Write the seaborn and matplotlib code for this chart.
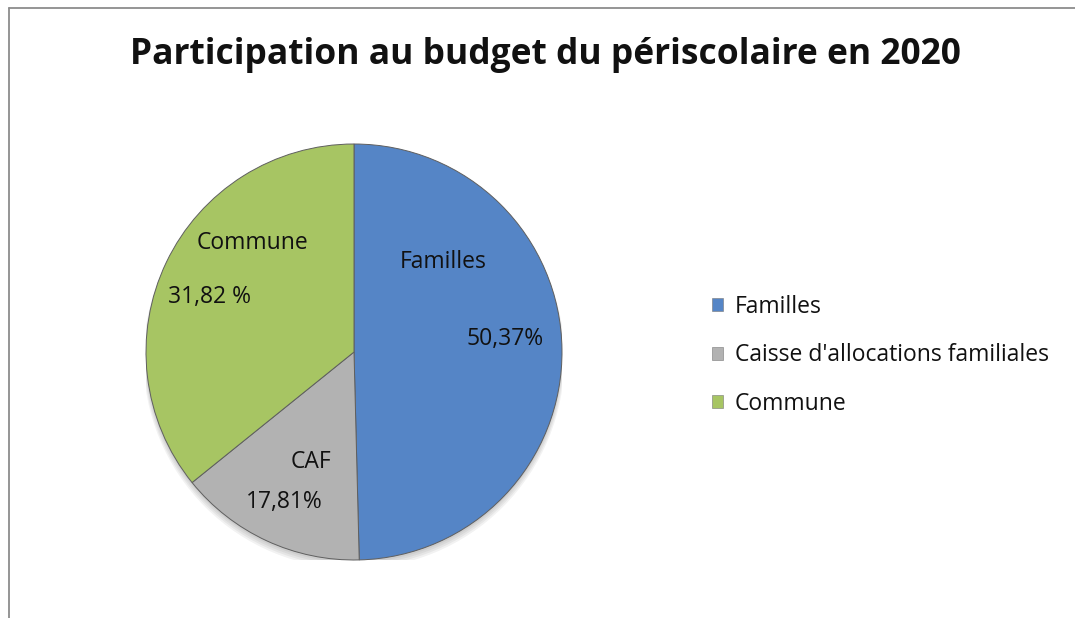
import matplotlib
matplotlib.use("Agg")
import matplotlib.pyplot as plt
from matplotlib.lines import Line2D
from matplotlib.patches import Patch
import seaborn as sns

categories = ["Familles", "Caisse d'allocations familiales", "Commune"]
short_labels = ["Familles", "CAF", "Commune"]
# slice shares as drawn in the picture
values = [49.6, 14.6, 35.8]
# data labels as printed in the picture
value_labels = ["50,37%", "17,81%", "31,82 %"]
title = "Participation au budget du périscolaire en 2020"

sns.set_theme(style="white")
plt.rcParams['font.family'] = ['Open Sans', 'DejaVu Sans']

colors = ["#5585C6", "#B2B2B2", "#A7C563"]

W, H = 1075, 618
fig = plt.figure(figsize=(W / 100, H / 100), dpi=100)
fig.patch.set_facecolor("white")

cx, cy, r = 354, 352, 208
ax = fig.add_axes([(cx - r) / W, (H - cy - r) / H, 2 * r / W, 2 * r / H])

# soft shadow
for k in range(4):
    ax.add_patch(plt.Circle((0.0, -0.012 - 0.006 * k), 1.0 + 0.004 * k, color="#000000",
                            alpha=0.05, zorder=0, lw=0))

wedges, _ = ax.pie(values, colors=colors, startangle=90, counterclock=False,
                   radius=1.0, wedgeprops=dict(edgecolor="#5f5f5f", linewidth=0.7))
for w in wedges:
    w.set_zorder(2)
ax.set_xlim(-1, 1)
ax.set_ylim(-1, 1)
ax.set_aspect("equal")
ax.axis("off")

def px(x, y):
    return ((x - cx) / r, (cy - y) / r)

# label layout (pixel positions in the reference)
name_pos = [(443, 262), (311, 462), (253, 243)]
val_pos = [(505, 339), (284, 502), (210, 297)]
for i in range(len(values)):
    ax.text(*px(*name_pos[i]), short_labels[i], ha="center", va="center",
            fontsize=16.5, color="#111111", zorder=3)
    ax.text(*px(*val_pos[i]), value_labels[i], ha="center", va="center",
            fontsize=16.5, color="#111111", zorder=3)

fig.text(545 / W, 1 - 55 / H, title, ha="center", va="center",
         fontsize=25.5, fontweight="bold", color="#111111")

handles = [Patch(facecolor=c, edgecolor="#777777", linewidth=0.4) for c in colors]
leg = fig.legend(handles, categories, loc="upper left", bbox_to_anchor=(712 / W, 1 - 295 / H),
                 frameon=False, fontsize=16.5, handlelength=0.48, handleheight=0.48,
                 handletextpad=0.52, labelspacing=1.06, borderpad=0, borderaxespad=0)
for t in leg.get_texts():
    t.set_color("#111111")

frame_color = "#8c8c8c"
fig.add_artist(Line2D([9 / W, 1.0], [1 - 8 / H, 1 - 8 / H], color=frame_color, lw=1.3))
fig.add_artist(Line2D([9 / W, 9 / W], [0.0, 1 - 8 / H], color=frame_color, lw=1.3))

fig.savefig("out.png", dpi=100, facecolor="white")
